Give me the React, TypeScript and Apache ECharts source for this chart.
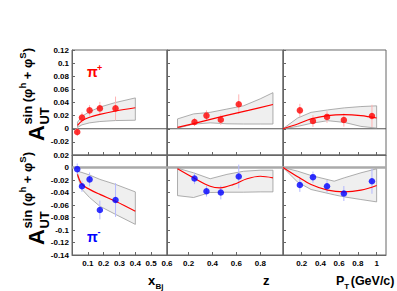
import React, { useEffect, useRef } from 'react';
import * as echarts from 'echarts';

// ---- bins (kinematic points) ----
const xBjBins = [0.033, 0.063, 0.111, 0.176, 0.275];
const zBins = [0.25, 0.35, 0.47, 0.62];
const ptBins = [0.18, 0.32, 0.47, 0.65, 0.95];

// ---- measured asymmetries ----
const piPlusXbj = [-0.005, 0.017, 0.028, 0.031, 0.031];
const piPlusXbjErr = [0.006, 0.008, 0.008, 0.01, 0.018];
const piPlusZ = [0.0103, 0.02, 0.0138, 0.0374];
const piPlusZErr = [0.006, 0.008, 0.008, 0.015];
const piPlusPt = [0.028, 0.0118, 0.018, 0.0133, 0.0195];
const piPlusPtErr = [0.01, 0.009, 0.009, 0.01, 0.017];

const piMinusXbj = [-0.0027, -0.03, -0.019, -0.068, -0.052];
const piMinusXbjErr = [0.009, 0.009, 0.011, 0.015, 0.027];
const piMinusZ = [-0.0176, -0.038, -0.04, -0.0144];
const piMinusZErr = [0.009, 0.0085, 0.011, 0.019];
const piMinusPt = [-0.028, -0.0155, -0.03, -0.0416, -0.022];
const piMinusPtErr = [0.011, 0.009, 0.01, 0.012, 0.02];

// ---- model curves and bands ----
const xBjCurveX = [0.035, 0.063, 0.111, 0.176, 0.275, 0.4];
const piPlusXbjCurve = [0.005, 0.012, 0.0175, 0.022, 0.027, 0.032];
const piPlusXbjUpper = [0.01, 0.019, 0.026, 0.033, 0.04, 0.047];
const piPlusXbjLower = [0.002, 0.006, 0.009, 0.011, 0.0125, 0.013];
const piMinusXbjCurve = [-0.011, -0.027, -0.035, -0.043, -0.054, -0.07];
const piMinusXbjUpper = [-0.006, -0.008, -0.012, -0.019, -0.027, -0.039];
const piMinusXbjLower = [-0.014, -0.035, -0.048, -0.062, -0.075, -0.091];

const zBandX = [0.108, 0.242, 0.381, 0.521, 0.66, 0.8, 0.906];
const piPlusZCurveX = [0.108, 0.3, 0.5, 0.7, 0.906];
const piPlusZCurve = [0.002, 0.0105, 0.0195, 0.028, 0.037];
const piPlusZUpper = [0.015, 0.0226, 0.025, 0.03, 0.035, 0.0456, 0.055];
const piPlusZLower = [0.001, 0.007, 0.009, 0.0075, 0.0072, 0.0072, 0.0072];
const piMinusZCurveX = [0.108, 0.242, 0.381, 0.465, 0.577, 0.689, 0.8, 0.906];
const piMinusZCurve = [-0.002, -0.0165, -0.03, -0.0325, -0.027, -0.018, -0.014, -0.0165];
const piMinusZUpper = [-0.001, -0.0085, -0.018, -0.011, -0.006, -0.0043, -0.0043];
const piMinusZLower = [-0.045, -0.048, -0.04, -0.0395, -0.0395, -0.039, -0.039];

const ptCurveX = [0, 0.157, 0.3, 0.477, 0.654, 0.832, 1.0];
const piPlusPtCurve = [0, 0.0072, 0.015, 0.02, 0.0215, 0.02, 0.0164];
const piPlusPtUpper = [0, 0.0164, 0.025, 0.0287, 0.0318, 0.0338, 0.0349];
const piPlusPtLower = [0, 0.0036, 0.0082, 0.0123, 0.0097, 0.0036, 0.001];
const piMinusPtCurve = [0, -0.0149, -0.0272, -0.0363, -0.039, -0.0363, -0.0288];
const piMinusPtBandX = [0, 0.157, 0.3, 0.547, 0.654, 0.832, 1.0];
const piMinusPtUpper = [0, -0.0059, -0.0128, -0.0219, -0.0165, -0.0085, -0.0021];
const piMinusPtLower = [0, -0.0235, -0.0352, -0.0437, -0.047, -0.0512, -0.055];

// ---- axes ----
const xBjTicks = [0.1, 0.2, 0.3, 0.4, 0.5, 0.6];
const zTicks = [0.2, 0.4, 0.6, 0.8];
const ptTicks = [0.2, 0.4, 0.6, 0.8, 1];
const xRanges = [[0, 0.6], [0.02, 0.99], [0, 1.1]];
const yRanges = [[-0.04, 0.12], [-0.14, 0.02]];

const FONT = '"Liberation Sans", Arial, Helvetica, sans-serif';
const RED = '#ff0000';
const BLUE = '#0000ff';

let measureCtx: CanvasRenderingContext2D | null = null;
function measure(text: string, size: number) {
  if (!measureCtx) measureCtx = document.createElement('canvas').getContext('2d');
  measureCtx!.font = `bold ${size}px ${FONT}`;
  return measureCtx!.measureText(text).width;
}

function txt(x: number, base: number, text: string, size: number, color = '#000') {
  return {
    type: 'text',
    x,
    y: base - 0.35 * size,
    style: { text, font: `bold ${size}px ${FONT}`, fill: color, align: 'left', verticalAlign: 'middle' },
    silent: true,
  };
}

function yTitle(ox: number, oy: number) {
  const children: any[] = [];
  const aSize = 22;
  children.push(txt(0, 44, 'A', aSize));
  const u0 = measure('A', aSize) + 0.5;
  children.push(txt(u0, 49.5, 'UT', 13));
  let u = u0;
  const sup: [string, number, number][] = [
    ['sin (φ', 13, 32],
    ['h', 9.5, 26],
    [' + φ', 13, 32],
    ['S', 9.5, 26],
    [')', 13, 32],
  ];
  for (const [t, s, b] of sup) {
    children.push(txt(u, b, t, s));
    u += measure(t, s);
  }
  return { type: 'group', x: ox, y: oy, rotation: Math.PI / 2, children };
}

const grids = [
  { left: 72, top: 50, width: 95, height: 105 },
  { left: 167, top: 50, width: 116, height: 105 },
  { left: 283, top: 50, width: 103, height: 105 },
  { left: 72, top: 155, width: 95, height: 100 },
  { left: 167, top: 155, width: 116, height: 100 },
  { left: 283, top: 155, width: 103, height: 100 },
];

const panels = [
  { bins: xBjBins, y: piPlusXbj, err: piPlusXbjErr, cx: xBjCurveX, cy: piPlusXbjCurve, bx: xBjCurveX, bu: piPlusXbjUpper, bl: piPlusXbjLower, color: RED, ec: '#ffb3b3' },
  { bins: zBins, y: piPlusZ, err: piPlusZErr, cx: piPlusZCurveX, cy: piPlusZCurve, bx: zBandX, bu: piPlusZUpper, bl: piPlusZLower, color: RED, ec: '#ffb3b3' },
  { bins: ptBins, y: piPlusPt, err: piPlusPtErr, cx: ptCurveX, cy: piPlusPtCurve, bx: ptCurveX, bu: piPlusPtUpper, bl: piPlusPtLower, color: RED, ec: '#ffb3b3' },
  { bins: xBjBins, y: piMinusXbj, err: piMinusXbjErr, cx: xBjCurveX, cy: piMinusXbjCurve, bx: xBjCurveX, bu: piMinusXbjUpper, bl: piMinusXbjLower, color: BLUE, ec: '#b3b8ff' },
  { bins: zBins, y: piMinusZ, err: piMinusZErr, cx: piMinusZCurveX, cy: piMinusZCurve, bx: zBandX, bu: piMinusZUpper, bl: piMinusZLower, color: BLUE, ec: '#b3b8ff' },
  { bins: ptBins, y: piMinusPt, err: piMinusPtErr, cx: ptCurveX, cy: piMinusPtCurve, bx: piMinusPtBandX, bu: piMinusPtUpper, bl: piMinusPtLower, color: BLUE, ec: '#b3b8ff' },
];

const tickSets = [xBjTicks, zTicks, ptTicks];

function fmt(v: number) {
  return String(parseFloat(Number(v).toFixed(3)));
}

function buildOption() {
  const xAxis: any[] = [];
  const yAxis: any[] = [];
  const series: any[] = [];
  const labelStyle = { fontFamily: FONT, fontWeight: 'bold', fontSize: 8, color: '#000' };
  for (let i = 0; i < 6; i++) {
    const row = Math.floor(i / 3);
    const col = i % 3;
    const [xmin, xmax] = xRanges[col];
    const [ymin, ymax] = yRanges[row];
    xAxis.push({
      type: 'value', gridIndex: i, min: xmin, max: xmax,
      axisLine: { show: true, onZero: false, lineStyle: { color: '#666', width: 1 } },
      axisTick: { show: true, inside: true, length: 3, customValues: tickSets[col], lineStyle: { color: '#666' } },
      axisLabel: { show: row === 1, customValues: tickSets[col], margin: 4, ...labelStyle, formatter: (v: number) => fmt(v) },
      splitLine: { show: false },
    });
    yAxis.push({
      type: 'value', gridIndex: i, min: ymin, max: ymax, interval: 0.02,
      axisLine: { show: true, onZero: false, lineStyle: { color: '#666', width: 1 } },
      axisTick: { show: true, inside: true, length: 3, lineStyle: { color: '#666' } },
      axisLabel: {
        show: col === 0, margin: 3, ...labelStyle, showMinLabel: true, showMaxLabel: true,
        formatter: (v: number) => (row === 0 && Math.abs(v + 0.04) < 1e-9 ? '' : fmt(v)),
      },
      splitLine: { show: false },
    });
    const p = panels[i];
    // zero line
    series.push({
      type: 'line', xAxisIndex: i, yAxisIndex: i, data: [[xmin, 0], [xmax, 0]], symbol: 'none', silent: true, z: 1,
      lineStyle: row === 0 ? { color: '#555', width: 1 } : { color: '#aaaaaa', width: 2.7 },
    });
    // uncertainty band
    series.push({
      type: 'custom', xAxisIndex: i, yAxisIndex: i, z: 2, silent: true,
      data: [[p.bx[0], p.bu[0]]],
      renderItem: (_params: any, api: any) => {
        const up = p.bx.map((x: number, k: number) => api.coord([x, p.bu[k]]));
        const lo = p.bx.map((x: number, k: number) => api.coord([x, p.bl[k]])).reverse();
        return { type: 'polygon', shape: { points: up.concat(lo) }, style: { fill: '#efefef', stroke: '#999', lineWidth: 0.8 } };
      },
    });
    // error bars
    series.push({
      type: 'custom', xAxisIndex: i, yAxisIndex: i, z: 3, silent: true,
      encode: { x: 0, y: [1, 2] },
      data: p.bins.map((x: number, k: number) => [x, p.y[k] - p.err[k], p.y[k] + p.err[k]]),
      renderItem: (_params: any, api: any) => {
        const a = api.coord([api.value(0), api.value(1)]);
        const b = api.coord([api.value(0), api.value(2)]);
        return { type: 'line', shape: { x1: a[0], y1: a[1], x2: b[0], y2: b[1] }, style: { stroke: p.ec, lineWidth: 1 } };
      },
    });
    // model curve
    series.push({
      type: 'line', xAxisIndex: i, yAxisIndex: i, z: 4, silent: true, smooth: 0.35, symbol: 'none',
      data: p.cx.map((x: number, k: number) => [x, p.cy[k]]),
      lineStyle: { color: RED, width: 1.2 },
    });
    // data points
    series.push({
      type: 'scatter', xAxisIndex: i, yAxisIndex: i, z: 5, silent: true, symbolSize: 6.5,
      data: p.bins.map((x: number, k: number) => [x, p.y[k]]),
      itemStyle: { color: p.color },
    });
  }

  const pW = measure('P', 12.5);
  const tW = measure('T', 8);
  const graphic: any[] = [
    txt(148, 285, 'x', 13),
    txt(155.5, 289.5, 'Bj', 8),
    txt(263, 285, 'z', 13),
    txt(336, 285, 'P', 12.5),
    txt(336 + pW, 289, 'T', 8),
    txt(336 + pW + tW + 1.5, 285, '(GeV/c)', 12.5),
    txt(87, 77, 'π', 14, RED),
    txt(97, 71, '+', 9, RED),
    txt(87, 242, 'π', 14, BLUE),
    txt(97.5, 235.5, '-', 9, BLUE),
    yTitle(0, 141),
    yTitle(0, 245),
  ];

  return {
    animation: false,
    backgroundColor: '#fff',
    grid: grids.map((g) => ({ ...g, show: true, borderColor: '#666', borderWidth: 1, backgroundColor: 'transparent', containLabel: false })),
    xAxis,
    yAxis,
    series,
    graphic,
  };
}

export default function App() {
  const ref = useRef<HTMLDivElement>(null);
  useEffect(() => {
    const chart = echarts.init(ref.current!, undefined, { renderer: 'svg' });
    chart.setOption(buildOption() as any);
    return () => chart.dispose();
  }, []);
  return <div ref={ref} style={{ position: 'absolute', left: 0, top: 0, width: 397, height: 291, background: '#fff' }} />;
}
